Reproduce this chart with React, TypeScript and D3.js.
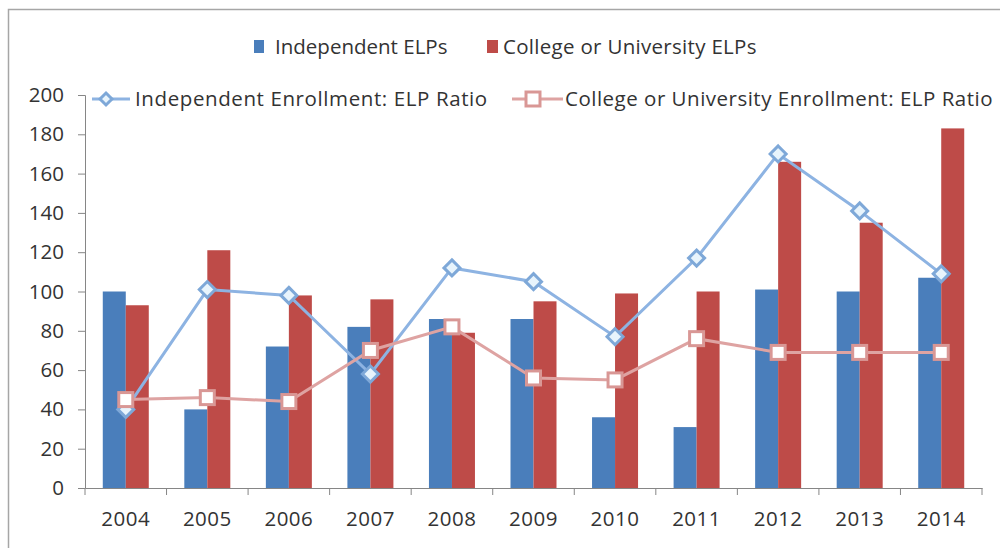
import React, { useEffect, useRef } from 'react';
import * as d3 from 'd3';

const years = ['2004', '2005', '2006', '2007', '2008', '2009', '2010', '2011', '2012', '2013', '2014'];
const independentElps = [100, 40, 72, 82, 86, 86, 36, 31, 101, 100, 107];
const collegeElps = [93, 121, 98, 96, 79, 95, 99, 100, 166, 135, 183];
const independentRatio = [40, 101, 98, 58, 112, 105, 77, 117, 170, 141, 109];
const collegeRatio = [45, 46, 44, 70, 82, 56, 55, 76, 69, 69, 69];
const yTicks = [0, 20, 40, 60, 80, 100, 120, 140, 160, 180, 200];

const W = 1000;
const H = 548;
const FONT = '"Open Sans", sans-serif';
const FS = '20.5px';

const App: React.FC = () => {
  const ref = useRef<SVGSVGElement | null>(null);

  useEffect(() => {
    if (!ref.current) return;
    const svg = d3.select(ref.current);
    svg.selectAll('*').remove();

    const margin = { top: 95, right: 18, bottom: 60, left: 85 };
    const innerW = W - margin.left - margin.right;
    const innerH = H - margin.top - margin.bottom;

    // chart frame
    svg.append('rect')
      .attr('x', 8.5).attr('y', 9.5)
      .attr('width', W).attr('height', H)
      .attr('fill', 'white').attr('stroke', '#a6a6a6').attr('stroke-width', 1.5);

    const g = svg.append('g').attr('transform', `translate(${margin.left},${margin.top})`);

    const x = d3.scaleBand().domain(years).range([0, innerW]);
    const y = d3.scaleLinear().domain([0, 200]).range([innerH, 0]);
    const bw = 23;

    // bars
    const cx = (d: string) => (x(d) as number) + x.bandwidth() / 2;
    g.selectAll('rect.ind')
      .data(years)
      .enter().append('rect')
      .attr('x', d => cx(d) - bw)
      .attr('y', (_, i) => y(independentElps[i]))
      .attr('width', bw)
      .attr('height', (_, i) => innerH - y(independentElps[i]))
      .attr('fill', '#4a7ebb');
    g.selectAll('rect.col')
      .data(years)
      .enter().append('rect')
      .attr('x', d => cx(d))
      .attr('y', (_, i) => y(collegeElps[i]))
      .attr('width', bw)
      .attr('height', (_, i) => innerH - y(collegeElps[i]))
      .attr('fill', '#be4b48');

    // axes
    const yAxis = g.append('g').call(d3.axisLeft(y).tickValues(yTicks).tickSize(7).tickPadding(14));
    const xAxis = g.append('g').attr('transform', `translate(0,${innerH})`)
      .call(d3.axisBottom(x).tickSize(0).tickPadding(23));
    [yAxis, xAxis].forEach(a => {
      a.select('.domain').attr('stroke', '#868686');
      a.selectAll('line').attr('stroke', '#868686');
      a.selectAll('text').attr('fill', '#333').style('font-family', FONT).style('font-size', FS);
    });
    xAxis.selectAll('text').style('letter-spacing', '0.5px');
    // x tick marks at band boundaries
    g.append('g').selectAll('line')
      .data(d3.range(years.length + 1))
      .enter().append('line')
      .attr('x1', i => x.step() * i).attr('x2', i => x.step() * i)
      .attr('y1', innerH).attr('y2', innerH + 7)
      .attr('stroke', '#868686');

    // lines
    const line = d3.line<number>()
      .x((_, i) => cx(years[i]))
      .y(d => y(d));

    const blueLine = '#8db3e2';
    const redLine = '#dea3a2';

    g.append('path').datum(independentRatio)
      .attr('d', line).attr('fill', 'none').attr('stroke', blueLine).attr('stroke-width', 3);
    g.append('path').datum(collegeRatio)
      .attr('d', line).attr('fill', 'none').attr('stroke', redLine).attr('stroke-width', 3);

    const diamond = (sel: any, s: number) => sel
      .attr('d', `M0,${-s}L${s},0L0,${s}L${-s},0Z`)
      .attr('fill', '#e8f4fc').attr('stroke', '#7ea8d8').attr('stroke-width', 3);
    const square = (sel: any, s: number) => sel
      .attr('x', -s).attr('y', -s).attr('width', 2 * s).attr('height', 2 * s)
      .attr('fill', 'white').attr('stroke', '#d99795').attr('stroke-width', 3);

    g.selectAll('path.dm')
      .data(independentRatio)
      .enter().append('path')
      .attr('transform', (d, i) => `translate(${cx(years[i])},${y(d)})`)
      .call(diamond, 8);
    g.selectAll('g.sq')
      .data(collegeRatio)
      .enter().append('rect')
      .attr('transform', (d, i) => `translate(${cx(years[i])},${y(d)})`)
      .call(square, 7);

    // legend row 1
    const leg = svg.append('g').style('font-family', FONT).style('font-size', FS).attr('fill', '#333');
    leg.append('rect').attr('x', 254).attr('y', 40).attr('width', 10).attr('height', 13).attr('fill', '#4a7ebb');
    leg.append('text').attr('x', 275).attr('y', 54).text('Independent ELPs');
    leg.append('rect').attr('x', 487).attr('y', 40).attr('width', 11).attr('height', 13).attr('fill', '#be4b48');
    leg.append('text').attr('x', 503).attr('y', 54).style('letter-spacing', '0.3px').text('College or University ELPs');

    // legend row 2
    leg.append('line').attr('x1', 92).attr('x2', 130).attr('y1', 99).attr('y2', 99)
      .attr('stroke', blueLine).attr('stroke-width', 3);
    leg.append('path').attr('transform', 'translate(106,99)').call(diamond, 6);
    leg.append('text').attr('x', 135).attr('y', 106).style('letter-spacing', '0.6px')
      .text('Independent Enrollment: ELP Ratio');
    leg.append('line').attr('x1', 512).attr('x2', 563).attr('y1', 99).attr('y2', 99)
      .attr('stroke', redLine).attr('stroke-width', 3);
    leg.append('rect').attr('transform', 'translate(533,99)').call(square, 7);
    leg.append('text').attr('x', 565).attr('y', 106).style('letter-spacing', '0.5px')
      .text('College or University Enrollment: ELP Ratio');
  }, []);

  return (
    <div style={{ position: 'fixed', left: 0, top: 0 }}>
      <svg ref={ref} width={W} height={H} style={{ display: 'block', background: 'white' }} />
    </div>
  );
};

export default App;
